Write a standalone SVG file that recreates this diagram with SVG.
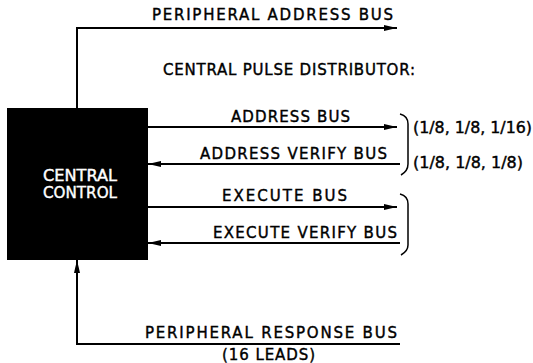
<svg xmlns="http://www.w3.org/2000/svg" width="533" height="363" viewBox="0 0 533 363">
<defs>
<marker id="ah" viewBox="0 0 13 7" refX="13" refY="3.5" markerWidth="13" markerHeight="7" markerUnits="userSpaceOnUse" orient="auto">
<path d="M0,0.5 L13,3.5 L0,6.5 Z" fill="#000"/>
</marker>
<style>
.t{font-family:"DejaVu Sans","Liberation Sans",sans-serif;font-size:15px;fill:#000;stroke:#000;stroke-width:0.4;}
.w{fill:#fff;stroke:#fff;}
.ln{stroke:#000;stroke-width:2;fill:none;}
.br{stroke:#000;stroke-width:1.5;fill:none;}
</style>
</defs>
<rect width="533" height="363" fill="#fff"/>
<g id="central-control">
<rect x="7" y="108" width="141" height="152" fill="#000"/>
<text class="t w" x="80" y="181" text-anchor="middle" textLength="74" lengthAdjust="spacingAndGlyphs">CENTRAL</text>
<text class="t w" x="80" y="198" text-anchor="middle" textLength="74" lengthAdjust="spacingAndGlyphs">CONTROL</text>
</g>
<g id="connectors">
<path class="ln" d="M77,108 L77,28 L397,28" marker-end="url(#ah)"/>
<path class="ln" d="M148,127 L397,127" marker-end="url(#ah)"/>
<path class="ln" d="M400,164 L148,164" marker-end="url(#ah)"/>
<path class="ln" d="M148,207 L397,207" marker-end="url(#ah)"/>
<path class="ln" d="M400,243 L148,243" marker-end="url(#ah)"/>
<path class="ln" d="M400,344 L77,344 L77,260" marker-end="url(#ah)"/>
</g>
<g id="labels">
<text class="t" x="152" y="20" textLength="241" lengthAdjust="spacing">PERIPHERAL ADDRESS BUS</text>
<text class="t" x="163" y="75" textLength="252" lengthAdjust="spacing">CENTRAL PULSE DISTRIBUTOR:</text>
<text class="t" x="231" y="122" textLength="119" lengthAdjust="spacing">ADDRESS BUS</text>
<text class="t" x="200" y="159" textLength="187" lengthAdjust="spacing">ADDRESS VERIFY BUS</text>
<text class="t" x="222" y="201" textLength="125" lengthAdjust="spacing">EXECUTE BUS</text>
<text class="t" x="213" y="238" textLength="184" lengthAdjust="spacing">EXECUTE VERIFY BUS</text>
<text class="t" x="145" y="338" textLength="252" lengthAdjust="spacing">PERIPHERAL RESPONSE BUS</text>
<text class="t" x="222" y="360" textLength="93" lengthAdjust="spacing">(16 LEADS)</text>
</g>
<g id="bracket-address">
<path class="br" d="M400,114 Q408,116 408,124 L408,164 Q408,171 401,175"/>
<text class="t" x="413" y="133" textLength="119" lengthAdjust="spacingAndGlyphs">(1/8, 1/8, 1/16)</text>
<text class="t" x="413" y="168" textLength="110" lengthAdjust="spacingAndGlyphs">(1/8, 1/8, 1/8)</text>
</g>
<g id="bracket-execute">
<path class="br" d="M400,194 Q408,196 408,204 L408,245 Q408,251 401,255"/>
</g>
</svg>
